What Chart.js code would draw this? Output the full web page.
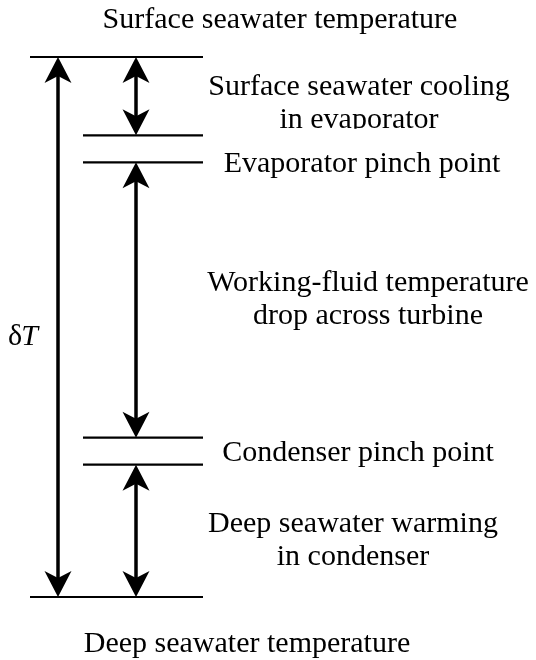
<!DOCTYPE html>
<html>
<head>
<meta charset="utf-8">
<script src="https://cdn.jsdelivr.net/npm/chart.js@4"></script>
<style>
  html, body { margin: 0; padding: 0; background: #fff; }
  #wrap { width: 536px; height: 660px; position: relative; }
</style>
</head>
<body>
<div id="wrap"><canvas id="c" width="536" height="660"></canvas></div>
<script>
// ---- data (temperature levels, °C) ----
const levelNames = ['Surface seawater', 'Evaporator seawater outlet', 'Evaporator working fluid',
                    'Condenser working fluid', 'Condenser seawater outlet', 'Deep seawater'];
const levelTemps = [26, 23.1, 22.1, 11.9, 10.9, 6];
const segmentLabels = [
  ['Surface seawater cooling', 'in evaporator'],
  ['Evaporator pinch point'],
  ['Working-fluid temperature', 'drop across turbine'],
  ['Condenser pinch point'],
  ['Deep seawater warming', 'in condenser']
];
const arrowSegments = [[0, 1], [2, 3], [4, 5]];   // level index pairs with double arrows
const topLabel = 'Surface seawater temperature';
const bottomLabel = 'Deep seawater temperature';

// ---- layout (positions / styles only) ----
const X_FULL_START = 30, X_PINCH_START = 83, X_END = 203;
const X_TOTAL_ARROW = 58, X_SEG_ARROW = 136;
const labelX = [359, 362, 368, 358, 353];
const labelDy = [-1.5, 23.5, -9, 10, 1];
const labelClip = [true, false, false, false, true];
const LINE_GAP = 33;
const FONT = '30px "Liberation Serif", "Times New Roman", serif';
const FONT_IT = 'italic 30px "Liberation Serif", "Times New Roman", serif';

const levelDatasets = levelTemps.map((t, i) => ({
  label: levelNames[i],
  data: [{ x: (i === 0 || i === levelTemps.length - 1) ? X_FULL_START : X_PINCH_START, y: t }, { x: X_END, y: t }],
  showLine: true, borderColor: '#000', borderWidth: 2.2, pointRadius: 0, clip: false, fill: false
}));

function arrowHead(ctx, x, yTip, dir) {
  // dir = -1 points up, +1 points down
  const L = 26, W = 13.5, N = 19;
  ctx.beginPath();
  ctx.moveTo(x, yTip);
  ctx.lineTo(x - W, yTip - dir * L);
  ctx.lineTo(x, yTip - dir * N);
  ctx.lineTo(x + W, yTip - dir * L);
  ctx.closePath();
  ctx.fill();
}
function doubleArrow(ctx, x, y1, y2) {
  ctx.beginPath();
  ctx.moveTo(x, y1 + 16);
  ctx.lineTo(x, y2 - 16);
  ctx.stroke();
  arrowHead(ctx, x, y1, -1);
  arrowHead(ctx, x, y2, 1);
}

const diagramPlugin = {
  id: 'diagram',
  afterDatasetsDraw(chart) {
    const ctx = chart.ctx, ys = chart.scales.y, xs = chart.scales.x;
    const py = i => ys.getPixelForValue(levelTemps[i]);
    ctx.save();
    ctx.fillStyle = '#000'; ctx.strokeStyle = '#000'; ctx.lineWidth = 3.5; ctx.lineCap = 'butt';
    doubleArrow(ctx, xs.getPixelForValue(X_TOTAL_ARROW), py(0), py(levelTemps.length - 1));
    arrowSegments.forEach(([a, b]) => doubleArrow(ctx, xs.getPixelForValue(X_SEG_ARROW), py(a), py(b)));

    // texts
    ctx.textAlign = 'center'; ctx.textBaseline = 'alphabetic';
    ctx.font = FONT;
    ctx.fillText(topLabel, 280, py(0) - 29);
    ctx.fillText(bottomLabel, 247, py(levelTemps.length - 1) + 55);
    segmentLabels.forEach((lines, i) => {
      const mid = (py(i) + py(i + 1)) / 2;
      lines.forEach((t, k) => {
        const yb = mid + labelDy[i] + k * LINE_GAP;
        ctx.save();
        if (labelClip[i] && k === lines.length - 1) {
          ctx.beginPath(); ctx.rect(0, yb - 40, chart.width, 41); ctx.clip();
        }
        ctx.fillText(t, labelX[i], yb);
        ctx.restore();
      });
    });
    // δT
    const midAll = (py(0) + py(levelTemps.length - 1)) / 2;
    ctx.textAlign = 'left';
    ctx.font = FONT;
    const dW = ctx.measureText('δ').width;
    ctx.fillText('δ', 8, midAll + 18);
    ctx.font = FONT_IT;
    ctx.fillText('T', 8 + dW - 1, midAll + 18);
    ctx.restore();
  }
};

new Chart(document.getElementById('c'), {
  type: 'scatter',
  data: { datasets: levelDatasets },
  options: {
    responsive: false,
    animation: false,
    events: [],
    layout: { padding: { top: 57, bottom: 63, left: 0, right: 0 } },
    plugins: { legend: { display: false }, tooltip: { enabled: false }, title: { display: false } },
    scales: {
      x: { type: 'linear', min: 0, max: 536, display: false },
      y: { type: 'linear', min: 6, max: 26, display: false }
    }
  },
  plugins: [diagramPlugin]
});
</script>
</body>
</html>
